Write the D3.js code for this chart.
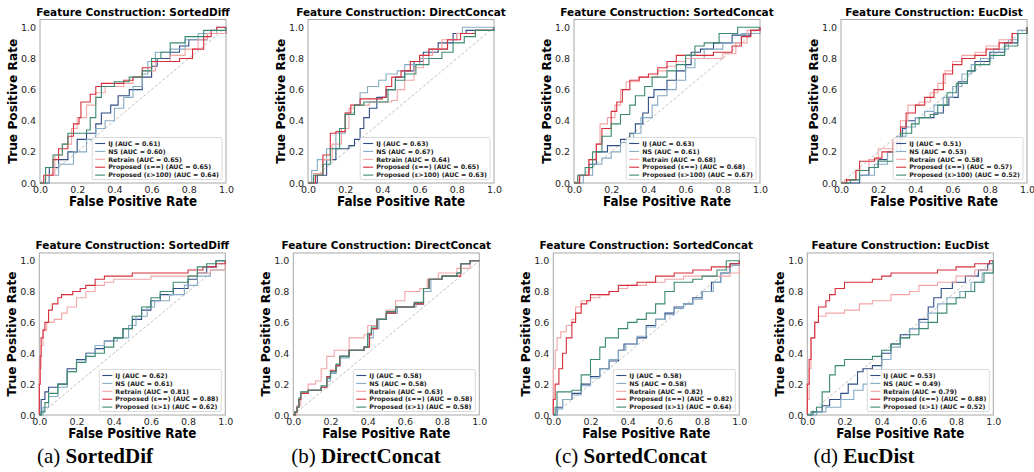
<!DOCTYPE html>
<html>
<head>
<meta charset="utf-8">
<script src="https://cdn.jsdelivr.net/npm/d3@7"></script>
<style>
  body { margin: 0; background: #fff; }
  svg { display: block; }
</style>
</head>
<body>
<svg id="fig" width="1034" height="472"></svg>
<script>
// ROC curve points [fpr, tpr]

// --- top row (ε>100) ---
const t1_IJ = [[0,0],[0.02,0],[0.05,0.1],[0.1,0.15],[0.15,0.2],[0.2,0.28],[0.25,0.32],[0.3,0.38],[0.33,0.45],[0.38,0.5],[0.42,0.56],[0.48,0.6],[0.55,0.68],[0.6,0.75],[0.63,0.8],[0.7,0.84],[0.75,0.88],[0.8,0.92],[0.9,0.96],[1,1]];
const t1_NS = [[0,0],[0.05,0.05],[0.1,0.12],[0.18,0.2],[0.25,0.28],[0.3,0.35],[0.35,0.4],[0.4,0.48],[0.45,0.55],[0.5,0.62],[0.55,0.7],[0.58,0.78],[0.62,0.84],[0.7,0.86],[0.78,0.92],[0.85,0.96],[0.95,1],[1,1]];
const t1_RT = [[0,0],[0.03,0.05],[0.08,0.18],[0.12,0.25],[0.17,0.35],[0.2,0.42],[0.25,0.5],[0.3,0.58],[0.35,0.62],[0.45,0.64],[0.5,0.68],[0.55,0.72],[0.62,0.78],[0.7,0.82],[0.78,0.86],[0.85,0.92],[0.9,0.96],[1,1]];
const t1_PI = [[0,0],[0.02,0.05],[0.07,0.15],[0.1,0.22],[0.15,0.3],[0.18,0.38],[0.21,0.42],[0.22,0.52],[0.27,0.57],[0.3,0.62],[0.33,0.64],[0.45,0.66],[0.5,0.68],[0.55,0.74],[0.6,0.78],[0.75,0.8],[0.82,0.86],[0.88,0.94],[0.92,0.98],[0.95,1],[1,1]];
const t1_PE = [[0,0],[0.03,0.1],[0.07,0.18],[0.12,0.25],[0.15,0.32],[0.25,0.34],[0.27,0.42],[0.3,0.55],[0.33,0.62],[0.4,0.65],[0.48,0.68],[0.55,0.72],[0.6,0.8],[0.65,0.84],[0.7,0.9],[0.78,0.94],[0.88,0.98],[1,1]];

const t2_IJ = [[0,0],[0.05,0.05],[0.1,0.15],[0.15,0.22],[0.22,0.24],[0.25,0.28],[0.28,0.35],[0.3,0.42],[0.33,0.48],[0.37,0.55],[0.42,0.6],[0.47,0.68],[0.52,0.72],[0.57,0.78],[0.62,0.84],[0.7,0.9],[0.78,0.96],[0.85,0.98],[1,1]];
const t2_NS = [[0,0],[0.02,0.08],[0.05,0.15],[0.1,0.22],[0.15,0.32],[0.2,0.45],[0.25,0.5],[0.28,0.58],[0.32,0.62],[0.38,0.66],[0.42,0.7],[0.48,0.72],[0.52,0.76],[0.6,0.8],[0.65,0.86],[0.75,0.92],[0.8,0.96],[0.83,1],[1,1]];
const t2_RT = [[0,0],[0.03,0.06],[0.08,0.15],[0.13,0.25],[0.18,0.35],[0.22,0.48],[0.25,0.5],[0.33,0.52],[0.45,0.53],[0.48,0.6],[0.52,0.66],[0.57,0.74],[0.62,0.82],[0.67,0.86],[0.72,0.92],[0.8,0.96],[0.9,0.98],[1,1]];
const t2_PI = [[0,0],[0.04,0.05],[0.08,0.18],[0.12,0.32],[0.15,0.33],[0.2,0.45],[0.23,0.5],[0.28,0.54],[0.38,0.54],[0.4,0.55],[0.42,0.62],[0.45,0.68],[0.5,0.72],[0.55,0.78],[0.6,0.82],[0.65,0.86],[0.75,0.92],[0.82,0.96],[0.9,0.98],[1,0.98]];
const t2_PE = [[0,0],[0.03,0.05],[0.08,0.12],[0.12,0.22],[0.17,0.35],[0.2,0.44],[0.25,0.5],[0.3,0.52],[0.38,0.52],[0.43,0.6],[0.47,0.66],[0.52,0.7],[0.58,0.76],[0.65,0.8],[0.72,0.84],[0.78,0.9],[0.84,0.94],[0.9,0.98],[1,1]];

const t3_IJ = [[0,0],[0.03,0.05],[0.08,0.12],[0.12,0.2],[0.18,0.24],[0.25,0.28],[0.3,0.32],[0.33,0.38],[0.37,0.45],[0.4,0.55],[0.43,0.6],[0.5,0.66],[0.55,0.72],[0.6,0.76],[0.63,0.84],[0.68,0.86],[0.75,0.9],[0.85,0.95],[0.95,0.98],[1,1]];
const t3_NS = [[0,0],[0.05,0.05],[0.1,0.12],[0.15,0.16],[0.2,0.2],[0.25,0.26],[0.32,0.32],[0.36,0.42],[0.42,0.5],[0.45,0.56],[0.5,0.6],[0.55,0.66],[0.6,0.74],[0.65,0.8],[0.7,0.86],[0.8,0.9],[0.9,0.96],[1,1]];
const t3_RT = [[0,0],[0.02,0.05],[0.08,0.15],[0.12,0.25],[0.14,0.38],[0.18,0.42],[0.22,0.5],[0.25,0.6],[0.28,0.65],[0.35,0.68],[0.45,0.72],[0.5,0.75],[0.55,0.78],[0.6,0.8],[0.7,0.8],[0.8,0.83],[0.87,0.9],[0.93,0.98],[1,1]];
const t3_PI = [[0,0],[0.03,0.05],[0.08,0.15],[0.12,0.25],[0.15,0.35],[0.2,0.46],[0.23,0.52],[0.26,0.6],[0.3,0.66],[0.35,0.68],[0.4,0.7],[0.45,0.74],[0.5,0.78],[0.55,0.82],[0.65,0.82],[0.75,0.84],[0.85,0.88],[0.9,0.94],[0.95,0.98],[1,1]];
const t3_PE = [[0,0],[0.02,0.05],[0.06,0.1],[0.1,0.2],[0.15,0.3],[0.2,0.38],[0.25,0.44],[0.3,0.5],[0.33,0.56],[0.38,0.62],[0.42,0.68],[0.5,0.72],[0.55,0.76],[0.6,0.82],[0.65,0.88],[0.7,0.9],[0.78,0.96],[0.88,1],[1,1]];

const t4_IJ = [[0,0],[0.05,0],[0.1,0.05],[0.15,0.1],[0.2,0.15],[0.25,0.2],[0.3,0.28],[0.33,0.35],[0.35,0.4],[0.4,0.42],[0.5,0.45],[0.55,0.5],[0.58,0.55],[0.63,0.65],[0.68,0.72],[0.72,0.78],[0.8,0.84],[0.88,0.9],[0.95,0.96],[1,1]];
const t4_NS = [[0,0],[0.03,0.02],[0.1,0.05],[0.18,0.12],[0.25,0.2],[0.3,0.3],[0.35,0.36],[0.4,0.42],[0.45,0.46],[0.5,0.5],[0.55,0.55],[0.6,0.62],[0.65,0.7],[0.7,0.76],[0.75,0.8],[0.82,0.86],[0.9,0.92],[0.95,0.98],[1,1]];
const t4_RT = [[0,0],[0.02,0.02],[0.08,0.08],[0.15,0.15],[0.2,0.22],[0.28,0.28],[0.32,0.4],[0.36,0.5],[0.42,0.52],[0.48,0.58],[0.52,0.64],[0.56,0.72],[0.6,0.78],[0.65,0.82],[0.72,0.84],[0.78,0.88],[0.85,0.92],[0.92,0.96],[1,1]];
const t4_PI = [[0,0],[0.03,0.02],[0.08,0.08],[0.1,0.14],[0.18,0.16],[0.22,0.2],[0.28,0.26],[0.32,0.36],[0.35,0.45],[0.4,0.5],[0.45,0.55],[0.5,0.6],[0.55,0.7],[0.6,0.76],[0.65,0.8],[0.72,0.82],[0.78,0.86],[0.85,0.9],[0.92,0.96],[1,1]];
const t4_PE = [[0,0],[0.05,0.02],[0.1,0.08],[0.15,0.1],[0.2,0.14],[0.28,0.2],[0.32,0.32],[0.38,0.38],[0.42,0.42],[0.48,0.44],[0.52,0.5],[0.57,0.58],[0.62,0.64],[0.68,0.72],[0.72,0.76],[0.8,0.82],[0.88,0.88],[0.95,0.96],[1,1]];

// --- bottom row (ε>1) ---
const b1_IJ = [[0,0],[0.01,0.1],[0.03,0.15],[0.05,0.18],[0.1,0.2],[0.15,0.3],[0.2,0.36],[0.25,0.4],[0.3,0.43],[0.35,0.48],[0.4,0.5],[0.45,0.56],[0.5,0.62],[0.55,0.68],[0.6,0.74],[0.65,0.78],[0.72,0.82],[0.8,0.88],[0.85,0.92],[0.9,0.96],[0.95,1],[1,1]];
const b1_NS = [[0,0],[0.02,0.05],[0.05,0.12],[0.1,0.18],[0.15,0.28],[0.2,0.35],[0.25,0.4],[0.3,0.45],[0.35,0.48],[0.42,0.5],[0.48,0.58],[0.52,0.64],[0.58,0.7],[0.62,0.74],[0.7,0.78],[0.78,0.84],[0.85,0.9],[0.92,0.94],[1,1]];
const b1_RT = [[0,0],[0,0.3],[0.01,0.45],[0.02,0.55],[0.04,0.6],[0.08,0.62],[0.12,0.66],[0.15,0.7],[0.2,0.76],[0.25,0.8],[0.3,0.84],[0.35,0.86],[0.4,0.88],[0.5,0.88],[0.6,0.9],[0.75,0.9],[0.85,0.92],[0.92,0.94],[1,0.98]];
const b1_PI = [[0,0],[0,0.2],[0.005,0.38],[0.01,0.5],[0.02,0.55],[0.03,0.6],[0.05,0.68],[0.07,0.72],[0.1,0.76],[0.12,0.78],[0.18,0.8],[0.22,0.82],[0.25,0.84],[0.3,0.88],[0.35,0.9],[0.45,0.9],[0.5,0.92],[0.7,0.92],[0.8,0.94],[0.88,0.96],[0.95,0.98],[1,1]];
const b1_PE = [[0,0],[0.01,0.02],[0.03,0.08],[0.05,0.14],[0.1,0.2],[0.15,0.28],[0.2,0.34],[0.25,0.38],[0.3,0.4],[0.35,0.44],[0.4,0.5],[0.45,0.56],[0.5,0.64],[0.55,0.7],[0.6,0.76],[0.65,0.8],[0.72,0.86],[0.8,0.9],[0.85,0.96],[0.9,0.98],[0.95,1],[1,1]];

const b2_IJ = [[0,0],[0.01,0.02],[0.02,0.05],[0.03,0.1],[0.04,0.14],[0.08,0.16],[0.15,0.18],[0.18,0.24],[0.2,0.28],[0.23,0.32],[0.25,0.38],[0.3,0.42],[0.38,0.44],[0.4,0.52],[0.42,0.56],[0.45,0.62],[0.5,0.66],[0.55,0.7],[0.65,0.72],[0.7,0.82],[0.73,0.88],[0.8,0.9],[0.88,0.92],[0.9,0.98],[0.95,1],[1,1]];
const b2_NS = [[0,0],[0.01,0.02],[0.02,0.06],[0.03,0.1],[0.04,0.14],[0.08,0.16],[0.15,0.18],[0.18,0.22],[0.2,0.27],[0.23,0.32],[0.25,0.37],[0.3,0.42],[0.38,0.44],[0.4,0.5],[0.43,0.56],[0.46,0.62],[0.5,0.66],[0.56,0.7],[0.66,0.72],[0.7,0.8],[0.74,0.88],[0.8,0.9],[0.88,0.92],[0.9,0.98],[0.95,1],[1,1]];
const b2_RT = [[0,0],[0.02,0.06],[0.04,0.15],[0.08,0.2],[0.12,0.22],[0.15,0.3],[0.18,0.38],[0.22,0.42],[0.3,0.5],[0.38,0.52],[0.4,0.58],[0.45,0.62],[0.5,0.68],[0.55,0.74],[0.6,0.8],[0.68,0.82],[0.72,0.88],[0.78,0.92],[0.85,0.92],[0.88,0.95],[0.95,1],[1,1]];
const b2_PI = [[0,0],[0.01,0.02],[0.02,0.05],[0.03,0.1],[0.04,0.14],[0.08,0.16],[0.15,0.18],[0.18,0.25],[0.2,0.29],[0.23,0.32],[0.25,0.38],[0.3,0.42],[0.38,0.44],[0.41,0.52],[0.42,0.56],[0.45,0.62],[0.5,0.66],[0.55,0.7],[0.65,0.72],[0.7,0.82],[0.73,0.88],[0.8,0.9],[0.86,0.9],[0.9,0.98],[0.95,1],[1,1]];
const b2_PE = [[0,0],[0.01,0.02],[0.02,0.05],[0.03,0.11],[0.04,0.15],[0.08,0.16],[0.15,0.19],[0.18,0.24],[0.2,0.28],[0.23,0.33],[0.25,0.38],[0.3,0.42],[0.38,0.44],[0.4,0.53],[0.42,0.57],[0.45,0.62],[0.5,0.67],[0.55,0.7],[0.65,0.73],[0.7,0.82],[0.73,0.88],[0.8,0.9],[0.88,0.92],[0.9,0.98],[0.95,1],[1,1]];

const b3_IJ = [[0,0],[0.02,0.05],[0.05,0.1],[0.1,0.14],[0.15,0.2],[0.2,0.25],[0.25,0.3],[0.3,0.35],[0.35,0.42],[0.38,0.46],[0.45,0.5],[0.5,0.58],[0.55,0.62],[0.6,0.66],[0.65,0.7],[0.7,0.72],[0.75,0.76],[0.8,0.8],[0.85,0.86],[0.9,0.92],[0.95,0.98],[1,1]];
const b3_NS = [[0,0],[0.02,0.04],[0.05,0.1],[0.1,0.13],[0.15,0.19],[0.2,0.24],[0.25,0.3],[0.3,0.36],[0.35,0.42],[0.39,0.46],[0.45,0.51],[0.5,0.57],[0.55,0.62],[0.6,0.65],[0.65,0.69],[0.7,0.72],[0.75,0.75],[0.8,0.8],[0.86,0.86],[0.9,0.92],[0.95,0.97],[1,1]];
const b3_RT = [[0,0],[0,0.3],[0.01,0.42],[0.02,0.5],[0.04,0.54],[0.07,0.58],[0.1,0.62],[0.12,0.7],[0.15,0.74],[0.2,0.76],[0.25,0.78],[0.3,0.8],[0.35,0.82],[0.4,0.84],[0.5,0.86],[0.6,0.88],[0.7,0.9],[0.85,0.9],[0.95,0.92],[1,0.96]];
const b3_PI = [[0,0],[0,0.1],[0.01,0.2],[0.03,0.3],[0.05,0.4],[0.07,0.5],[0.1,0.6],[0.12,0.66],[0.15,0.72],[0.18,0.74],[0.2,0.78],[0.3,0.8],[0.35,0.84],[0.45,0.86],[0.55,0.9],[0.65,0.92],[0.75,0.94],[0.85,0.96],[0.95,0.98],[1,1]];
const b3_PE = [[0,0],[0.01,0.05],[0.02,0.15],[0.1,0.16],[0.15,0.26],[0.2,0.36],[0.25,0.44],[0.28,0.5],[0.35,0.56],[0.4,0.6],[0.45,0.62],[0.5,0.66],[0.55,0.72],[0.6,0.8],[0.65,0.86],[0.75,0.88],[0.8,0.9],[0.88,0.94],[0.93,1],[1,1]];

const b4_IJ = [[0,0],[0.03,0.02],[0.08,0.06],[0.12,0.1],[0.18,0.14],[0.22,0.2],[0.27,0.28],[0.3,0.3],[0.35,0.32],[0.4,0.4],[0.45,0.46],[0.5,0.52],[0.55,0.56],[0.6,0.62],[0.65,0.7],[0.68,0.76],[0.72,0.82],[0.78,0.86],[0.85,0.9],[0.92,0.94],[0.97,0.98],[1,1]];
const b4_NS = [[0,0],[0.05,0.02],[0.1,0.05],[0.18,0.1],[0.25,0.16],[0.3,0.2],[0.35,0.24],[0.4,0.36],[0.45,0.44],[0.5,0.5],[0.55,0.56],[0.6,0.6],[0.65,0.66],[0.7,0.72],[0.75,0.76],[0.82,0.8],[0.88,0.86],[0.94,0.92],[1,1]];
const b4_RT = [[0,0],[0,0.1],[0.01,0.3],[0.02,0.5],[0.04,0.6],[0.06,0.64],[0.1,0.66],[0.2,0.68],[0.28,0.72],[0.35,0.74],[0.45,0.78],[0.55,0.8],[0.6,0.84],[0.7,0.86],[0.8,0.9],[0.9,0.94],[1,0.98]];
const b4_PI = [[0,0],[0,0.2],[0.01,0.36],[0.02,0.5],[0.04,0.6],[0.06,0.7],[0.1,0.74],[0.12,0.78],[0.15,0.82],[0.2,0.86],[0.3,0.86],[0.35,0.88],[0.4,0.9],[0.45,0.92],[0.6,0.92],[0.7,0.94],[0.8,0.96],[0.9,0.98],[0.98,1],[1,1]];
const b4_PE = [[0,0],[0.02,0.02],[0.05,0.05],[0.08,0.15],[0.12,0.26],[0.15,0.32],[0.2,0.36],[0.3,0.36],[0.35,0.38],[0.4,0.42],[0.45,0.46],[0.5,0.5],[0.55,0.52],[0.6,0.56],[0.65,0.6],[0.7,0.66],[0.75,0.72],[0.8,0.76],[0.85,0.8],[0.9,0.86],[0.95,0.92],[1,1]];

// legend labels and AUC values
const methodsTop = ["IJ", "NS", "Retrain", "Proposed (ε==)", "Proposed (ε>100)"];
const methodsBottom = ["IJ", "NS", "Retrain", "Proposed (ε==)", "Proposed (ε>1)"];
const constructions = ["SortedDiff", "DirectConcat", "SortedConcat", "EucDist"];
const aucTop = [[0.61, 0.60, 0.65, 0.65, 0.64], [0.63, 0.67, 0.64, 0.65, 0.63], [0.63, 0.61, 0.68, 0.68, 0.67], [0.51, 0.53, 0.58, 0.57, 0.52]];
const aucBottom = [[0.62, 0.61, 0.81, 0.88, 0.62], [0.58, 0.58, 0.63, 0.58, 0.58], [0.58, 0.58, 0.82, 0.82, 0.64], [0.53, 0.49, 0.79, 0.88, 0.52]];
const captionTags = ["(a)", "(b)", "(c)", "(d)"];
const captionNames = ["SortedDif", "DirectConcat", "SortedConcat", "EucDist"];
const ticks = [0, 0.2, 0.4, 0.6, 0.8, 1.0];

const curvesTop = [[t1_IJ, t1_NS, t1_RT, t1_PI, t1_PE], [t2_IJ, t2_NS, t2_RT, t2_PI, t2_PE], [t3_IJ, t3_NS, t3_RT, t3_PI, t3_PE], [t4_IJ, t4_NS, t4_RT, t4_PI, t4_PE]];
const curvesBottom = [[b1_IJ, b1_NS, b1_RT, b1_PI, b1_PE], [b2_IJ, b2_NS, b2_RT, b2_PI, b2_PE], [b3_IJ, b3_NS, b3_RT, b3_PI, b3_PE], [b4_IJ, b4_NS, b4_RT, b4_PI, b4_PE]];

const colors = ["#2f4d85", "#86abc4", "#f3a5a5", "#d62f3b", "#3b8a70"];

const svg = d3.select('#fig');
const sans = "'DejaVu Sans', sans-serif";

// one ROC panel
function drawPanel(left, y0, y1, w, title, curves, labels, aucs) {
  const x = d3.scaleLinear().domain([0, 1]).range([left, left + w]);
  const y = d3.scaleLinear().domain([0, 1]).range([y0, y1]);
  const top = y(1.05), bottom = y(0);
  const g = svg.append('g');

  g.append('rect')
    .attr('x', left).attr('y', top)
    .attr('width', w).attr('height', bottom - top)
    .attr('fill', '#fff').attr('stroke', '#a8a8a8').attr('stroke-width', 1);

  // chance line
  g.append('line')
    .attr('x1', x(0)).attr('y1', y(0)).attr('x2', x(1)).attr('y2', y(1))
    .attr('stroke', '#b8b8b8').attr('stroke-width', 0.9).attr('stroke-dasharray', '3,2');

  const line = d3.line().x(d => x(d[0])).y(d => y(d[1])).curve(d3.curveStepAfter);
  curves.forEach((c, i) => {
    g.append('path').datum(c)
      .attr('d', line)
      .attr('fill', 'none')
      .attr('stroke', colors[i])
      .attr('stroke-width', 1.1);
  });

  // axes, no tick marks
  const xAxis = g.append('g').attr('transform', `translate(0,${bottom})`)
    .call(d3.axisBottom(x).tickValues(ticks).tickFormat(d3.format('.1f')).tickSize(0).tickPadding(3));
  const yAxis = g.append('g').attr('transform', `translate(${left},0)`)
    .call(d3.axisLeft(y).tickValues(ticks).tickFormat(d3.format('.1f')).tickSize(0).tickPadding(4));
  [xAxis, yAxis].forEach(a => {
    a.select('.domain').remove();
    a.selectAll('text').attr('font-family', sans).attr('font-size', 9.5).attr('fill', '#262626');
  });

  g.append('text')
    .attr('x', left + w / 2).attr('y', top - 3.5)
    .attr('text-anchor', 'middle')
    .attr('font-family', sans).attr('font-weight', 'bold').attr('font-size', 10.5)
    .text('Feature Construction: ' + title);

  g.append('text')
    .attr('x', left + w / 2).attr('y', bottom + 23)
    .attr('text-anchor', 'middle')
    .attr('font-family', sans).attr('font-weight', 'bold').attr('font-size', 13.5)
    .attr('textLength', 128).attr('lengthAdjust', 'spacingAndGlyphs')
    .text('False Positive Rate');

  g.append('text')
    .attr('transform', `translate(${left - 23},${(top + bottom) / 2}) rotate(-90)`)
    .attr('text-anchor', 'middle')
    .attr('font-family', sans).attr('font-weight', 'bold').attr('font-size', 12.2)
    .text('True Positive Rate');

  // legend in lower right
  const lg = g.append('g');
  const rowH = 7.9;
  const items = labels.map((l, i) => `${l} (AUC = ${aucs[i].toFixed(2)})`);
  const texts = lg.selectAll('text').data(items).join('text')
    .attr('x', 16).attr('y', (d, i) => 5.5 + i * rowH)
    .attr('dy', '0.35em')
    .attr('font-family', sans).attr('font-weight', 'bold').attr('font-size', 6.3)
    .attr('fill', '#222')
    .text(d => d);
  let maxW = 0;
  texts.each(function () { maxW = Math.max(maxW, this.getComputedTextLength()); });
  const boxW = maxW + 19, boxH = 5 * rowH + 2.5;
  lg.insert('rect', 'text')
    .attr('x', 0).attr('y', -0.5).attr('width', boxW).attr('height', boxH)
    .attr('rx', 1.5)
    .attr('fill', '#fff').attr('fill-opacity', 0.85)
    .attr('stroke', '#d0d0d0').attr('stroke-width', 0.8);
  lg.selectAll('line').data(items).join('line')
    .attr('x1', 3).attr('x2', 13)
    .attr('y1', (d, i) => 5.5 + i * rowH).attr('y2', (d, i) => 5.5 + i * rowH)
    .attr('stroke', (d, i) => colors[i]).attr('stroke-width', 1.1);
  lg.attr('transform', `translate(${left + w - 4 - boxW},${bottom - 3 - boxH})`);
}

const panelW = 186;
const leftsTop = [40, 308, 574, 841];
const leftsBottom = [39.3, 293.3, 553.3, 807.3];

constructions.forEach((c, i) => {
  drawPanel(leftsTop[i], 183, 27.3, panelW, c, curvesTop[i], methodsTop, aucTop[i]);
  drawPanel(leftsBottom[i], 415, 260.7, panelW, c, curvesBottom[i], methodsBottom, aucBottom[i]);
});

// sub-figure captions
const captionX = [95, 366, 631, 864];
captionTags.forEach((t, i) => {
  const txt = svg.append('text')
    .attr('x', captionX[i]).attr('y', 463)
    .attr('text-anchor', 'middle')
    .attr('font-family', "'Liberation Serif', 'Times New Roman', serif")
    .attr('font-size', 21)
    .attr('fill', '#000');
  txt.append('tspan').text(t + ' ');
  txt.append('tspan').attr('font-weight', 'bold').text(captionNames[i]);
});
</script>
</body>
</html>
